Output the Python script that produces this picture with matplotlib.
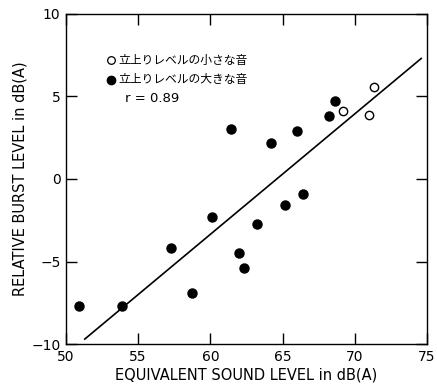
import numpy as np
import matplotlib
matplotlib.use('Agg')
import matplotlib.pyplot as plt

# sounds with a small rise level (open circles)
small_x = [69.2, 71.0, 71.3]
small_y = [4.1, 3.9, 5.6]

# sounds with a large rise level (filled circles)
large_x = [50.9, 53.9, 57.3, 58.7, 60.1, 61.4, 62.0, 62.3, 63.2,
           64.2, 65.2, 66.0, 66.4, 68.2, 68.6]
large_y = [-7.7, -7.7, -4.2, -6.9, -2.3, 3.0, -4.5, -5.4, -2.7,
           2.2, -1.6, 2.9, -0.9, 3.8, 4.7]

# regression line end points
fit_x = [51.3, 74.6]
fit_y = [-9.7, 7.3]

x_ticks = [50, 55, 60, 65, 70, 75]
y_ticks = [-10, -5, 0, 5, 10]

plt.rcParams['font.family'] = ['DejaVu Sans']

fig = plt.figure(figsize=(4.37, 3.87), dpi=100)
ax = fig.add_axes([0.151, 0.111, 0.826, 0.853])

ax.plot(fit_x, fit_y, color='black', lw=1.2)
ax.plot(large_x, large_y, 'o', color='black', ms=6.5, clip_on=False)
ax.plot(small_x, small_y, 'o', mfc='white', mec='black', mew=1.0, ms=6, clip_on=False)

ax.set_xlim(50, 75)
ax.set_ylim(-10, 10)
ax.set_xticks(x_ticks)
ax.set_yticks(y_ticks)
ax.set_yticklabels(['\u221210', '\u22125', '0', '5', '10'])
ax.tick_params(direction='in', length=8, width=1.0, top=True, right=True,
               labelsize=10, pad=4)
for s in ax.spines.values():
    s.set_linewidth(1.0)

ax.set_xlabel('EQUIVALENT SOUND LEVEL in dB(A)', fontsize=10.5, labelpad=3)
ax.set_ylabel('RELATIVE BURST LEVEL in dB(A)', fontsize=10.5, labelpad=3)

# key in the upper left
jp = ['Noto Sans CJK JP', 'DejaVu Sans']
ax.plot([53.15], [7.2], 'o', mfc='white', mec='black', mew=0.9, ms=5.5)
ax.plot([53.15], [6.0], 'o', color='black', ms=6)
ax.text(53.65, 7.2, '立上りレベルの小さな音', family=jp, fontsize=8.5, va='center')
ax.text(53.65, 6.0, '立上りレベルの大きな音', family=jp, fontsize=8.5, va='center')
ax.text(54.1, 4.85, 'r = 0.89', fontsize=9.5, va='center')

fig.savefig('out.png', dpi=100)
